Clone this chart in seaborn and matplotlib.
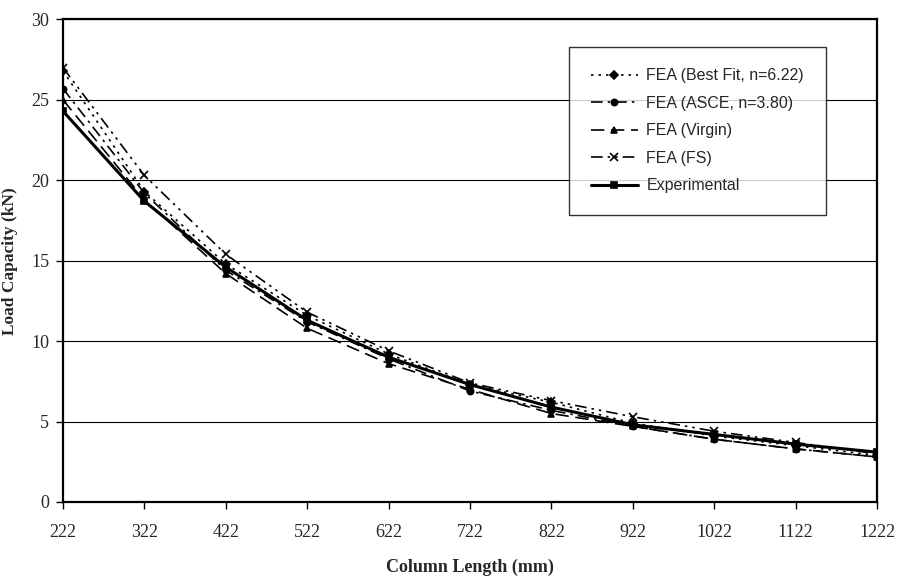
import pandas as pd
import matplotlib
matplotlib.use('Agg')
import matplotlib.pyplot as plt
import seaborn as sns

# 数据
column_length = [222, 322, 422, 522, 622, 722, 822, 922, 1022, 1122, 1222]
best_fit = [26.8, 19.3, 14.8, 11.6, 9.2, 7.3, 6.2, 4.9, 4.1, 3.5, 2.9]
asce = [25.7, 19.2, 14.4, 11.2, 8.9, 6.9, 5.7, 4.7, 3.9, 3.3, 2.8]
virgin = [25.0, 18.8, 14.2, 10.8, 8.6, 7.0, 5.5, 4.7, 3.9, 3.3, 2.8]
fs = [27.0, 20.3, 15.4, 11.8, 9.4, 7.4, 6.3, 5.3, 4.4, 3.7, 3.0]
experimental = [24.3, 18.7, 14.6, 11.3, 9.0, 7.3, 5.9, 4.8, 4.2, 3.6, 3.1]

sns.set_style('white')
plt.rcParams['font.family'] = ['Liberation Serif', 'DejaVu Serif']

fig = plt.figure(figsize=(9.04, 5.76), dpi=100)
ax = fig.add_axes([0.0697, 0.1285, 0.9004, 0.8377])

series = [
    ('FEA (Best Fit, n=6.22)', best_fit, 'D', (0, (1.5, 3)), 1.2, 4),
    ('FEA (ASCE, n=3.80)', asce, 'o', (0, (7, 3, 1.5, 3)), 1.2, 4.5),
    ('FEA (Virgin)', virgin, '^', (0, (8, 4)), 1.2, 4.5),
    ('FEA (FS)', fs, 'x', (0, (7, 3, 1.5, 3, 1.5, 3)), 1.2, 6),
    ('Experimental', experimental, 's', '-', 2.2, 5),
]

for label, vals, mk, ls, lw, ms in series:
    sns.lineplot(x=column_length, y=vals, ax=ax, color='black', marker=mk,
                 linestyle=ls, linewidth=lw, markersize=ms, label=label,
                 markeredgecolor='black', markeredgewidth=1.2)

ax.set_xlim(222, 1222)
ax.set_ylim(0, 30)
ax.set_xticks(column_length)
ax.set_xticklabels([str(v) for v in column_length], fontsize=13)
ax.set_yticks(range(0, 31, 5))
ax.set_yticklabels([str(v) for v in range(0, 31, 5)], fontsize=13)
ax.tick_params(axis='both', direction='out', length=5, width=1, color='black')
ax.tick_params(axis='x', pad=11)
ax.tick_params(axis='y', pad=5)
ax.xaxis.set_ticks_position('bottom')
ax.yaxis.set_ticks_position('left')
ax.grid(axis='y', color='black', linewidth=0.8)
for sp in ax.spines.values():
    sp.set_color('black')
    sp.set_linewidth(1.6)

ax.set_xlabel('Column Length (mm)', fontsize=13, fontweight='bold')
ax.xaxis.set_label_coords(0.5, -0.118)
ax.set_ylabel('Load Capacity (kN)', fontsize=12.5, fontweight='bold')
ax.yaxis.set_label_coords(-0.055, 0.5)

leg = ax.legend(loc='upper left', bbox_to_anchor=(0.6118, 0.96), frameon=True,
                fancybox=False, edgecolor='black', labelspacing=0.78, handlelength=3.0,
                borderpad=1.35, handletextpad=0.5,
                prop={'family': 'Liberation Sans', 'size': 11.5})
leg.get_frame().set_linewidth(1.0)

plt.savefig('out.png', dpi=100)
